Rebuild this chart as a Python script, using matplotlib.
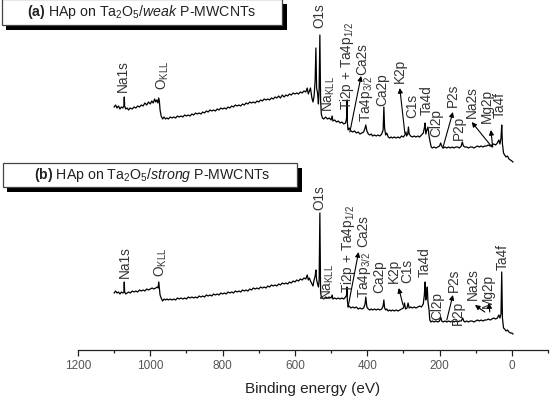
import matplotlib
matplotlib.use("Agg")
import matplotlib.pyplot as plt
from matplotlib import patches

plt.rcParams['font.family'] = ['Liberation Sans', 'DejaVu Sans']
plt.rcParams['mathtext.fontset'] = 'custom'
plt.rcParams['mathtext.rm'] = 'Liberation Sans'
plt.rcParams['mathtext.it'] = 'Liberation Sans:italic'
plt.rcParams['mathtext.bf'] = 'Liberation Sans:bold'

# survey spectra (binding energy in eV, intensity in a.u., (b) sits below (a))
ev_a = [1100, 1096, 1092, 1088, 1084, 1080, 1076, 1073, 1072, 1071, 1068, 1064, 1060, 1056, 1050, 1045,
        1040, 1035, 1030, 1025, 1020, 1015, 1010, 1005, 1000, 996, 992, 988, 985, 982, 979, 977, 975, 973,
        970, 966, 962, 958, 954, 950, 945, 940, 935, 930, 925, 920, 915, 910, 905, 900, 895, 890, 885, 880,
        875, 870, 865, 860, 855, 850, 845, 840, 835, 830, 825, 820, 815, 810, 805, 800, 795, 790, 785, 780,
        775, 770, 765, 760, 755, 750, 745, 740, 735, 730, 725, 720, 715, 710, 705, 700, 695, 690, 685, 680,
        675, 670, 665, 660, 655, 650, 645, 640, 635, 630, 625, 620, 615, 610, 605, 600, 595, 590, 585, 580,
        575, 570, 566, 563, 560, 557, 553, 550, 547, 544, 542, 540, 537, 535, 533, 531, 529, 527, 524, 520,
        515, 510, 505, 500, 497, 495, 490, 485, 480, 475, 470, 465, 460, 457, 456, 455, 453, 450, 445, 440,
        435, 430, 425, 420, 415, 410, 406, 404, 401, 397, 393, 389, 385, 380, 375, 370, 365, 360, 356, 354,
        352, 349, 346, 342, 338, 334, 330, 325, 320, 315, 310, 305, 300, 296, 293, 291, 288, 286, 284, 280,
        275, 270, 265, 260, 255, 250, 245, 242, 240, 238, 235, 232, 229, 226, 223, 220, 215, 210, 205, 200,
        197, 194, 190, 185, 180, 175, 170, 165, 160, 155, 150, 145, 140, 137, 134, 130, 125, 120, 115, 110,
        105, 100, 95, 90, 85, 80, 75, 70, 65, 60, 55, 50, 45, 40, 36, 33, 30, 28, 26, 23, 20, 16, 12, 8, 4,
        0, -3]
int_a = [243, 245, 242, 244, 241, 243, 242, 244, 253, 244, 241, 242, 240, 242, 241, 243,
         242, 244, 243, 245, 244, 247, 245, 248, 246, 249, 247, 251, 248, 250, 247, 252, 249, 240,
         234, 231, 233, 231, 232, 231, 233, 232, 233, 232, 234, 233, 234, 233, 235, 234, 235, 234, 236, 235,
         237, 236, 237, 236, 238, 237, 239, 238, 240, 239, 240, 239, 241, 240, 242, 241, 242, 241, 243, 242,
         244, 243, 245, 244, 245, 244, 246, 245, 247, 246, 248, 247, 248, 247, 249, 248, 250, 249, 251, 250,
         251, 250, 252, 251, 253, 252, 254, 252, 255, 253, 255, 254, 256, 255, 257, 256, 257, 256, 258, 257,
         259, 258, 262, 256, 259, 262, 252, 248, 254, 270, 302, 262, 256, 246, 262, 315, 250, 236, 232, 231,
         233, 231, 232, 230, 234, 229, 230, 228, 229, 227, 228, 226, 227, 232, 250, 228, 220, 222, 219, 218,
         219, 217, 218, 216, 217, 218, 222, 225, 219, 216, 215, 216, 214, 215, 214, 215, 214, 216, 220, 243,
         222, 215, 217, 213, 212, 213, 212, 213, 212, 213, 212, 214, 213, 215, 218, 214, 216, 223, 216, 214,
         213, 214, 213, 214, 213, 215, 217, 222, 227, 216, 220, 223, 214, 208, 203, 202, 203, 202, 203, 204,
         207, 204, 202, 203, 202, 203, 202, 203, 202, 203, 203, 202, 204, 208, 204, 203, 203, 202, 203, 203,
         202, 203, 204, 203, 204, 203, 204, 204, 205, 204, 205, 206, 205, 207, 210, 206, 212, 225, 206, 197,
         195, 193, 194, 191, 190, 189, 188]

ev_b = [1100, 1096, 1092, 1088, 1084, 1080, 1076, 1073, 1072, 1071, 1068, 1064, 1060, 1055, 1050, 1045,
        1040, 1035, 1030, 1025, 1020, 1015, 1010, 1005, 1000, 995, 990, 985, 981, 978, 977, 975, 973, 970,
        966, 962, 958, 954, 950, 945, 940, 935, 930, 925, 920, 915, 910, 905, 900, 895, 890, 885, 880, 875,
        870, 865, 860, 855, 850, 845, 840, 835, 830, 825, 820, 815, 810, 805, 800, 795, 790, 785, 780, 775,
        770, 765, 760, 755, 750, 745, 740, 735, 730, 725, 720, 715, 710, 705, 700, 695, 690, 685, 680, 675,
        670, 665, 660, 655, 650, 645, 640, 635, 630, 625, 620, 615, 610, 605, 600, 595, 590, 585, 580, 575,
        570, 566, 563, 560, 557, 553, 550, 547, 544, 542, 540, 537, 535, 533, 531, 529, 527, 524, 520, 515,
        510, 505, 500, 497, 495, 490, 485, 480, 475, 470, 465, 460, 457, 456, 455, 453, 450, 445, 440, 435,
        430, 425, 420, 415, 410, 406, 404, 401, 397, 393, 389, 385, 380, 375, 370, 365, 360, 356, 354, 352,
        349, 346, 342, 338, 334, 330, 325, 320, 315, 310, 305, 300, 297, 294, 290, 287, 284, 280, 275, 270,
        265, 260, 255, 250, 245, 242, 240, 238, 236, 234, 232, 229, 227, 224, 220, 215, 210, 205, 200, 197,
        194, 190, 185, 180, 175, 170, 165, 160, 155, 150, 145, 140, 136, 133, 130, 125, 120, 115, 110, 105,
        100, 95, 90, 85, 80, 75, 70, 65, 60, 55, 50, 45, 40, 36, 33, 30, 28, 26, 23, 20, 16, 12, 8, 4, 0, -3]
int_b = [57, 59, 57, 58, 56, 58, 57, 58, 68, 58, 56, 57, 58, 57, 59, 58,
         59, 58, 60, 59, 60, 59, 61, 60, 61, 62, 61, 62, 63, 62, 68, 62, 55, 52,
         49, 51, 50, 51, 50, 51, 50, 51, 50, 52, 51, 52, 51, 52, 51, 53, 52, 53, 52, 53,
         52, 54, 53, 54, 53, 55, 54, 55, 54, 56, 55, 56, 55, 57, 56, 57, 56, 58, 57, 58,
         57, 59, 58, 59, 58, 60, 59, 60, 59, 61, 60, 62, 61, 62, 61, 63, 62, 63, 62, 64,
         63, 65, 64, 65, 64, 66, 65, 67, 66, 67, 66, 68, 67, 69, 68, 70, 69, 71, 70, 72,
         71, 75, 70, 72, 69, 66, 64, 70, 74, 80, 70, 66, 63, 70, 137, 58, 53, 52, 51, 53,
         52, 53, 52, 55, 51, 52, 51, 52, 51, 52, 51, 53, 55, 63, 50, 43, 44, 42, 43, 42,
         43, 41, 42, 41, 42, 46, 53, 43, 41, 40, 41, 40, 41, 40, 41, 40, 41, 44, 50, 42,
         40, 41, 39, 40, 39, 40, 39, 40, 39, 40, 41, 42, 47, 41, 42, 47, 42, 43, 42, 43,
         42, 43, 44, 43, 46, 55, 68, 50, 55, 63, 48, 40, 30, 28, 29, 28, 29, 28, 29, 33,
         29, 28, 29, 28, 29, 28, 29, 28, 29, 28, 29, 29, 32, 29, 28, 29, 28, 29, 29, 28,
         29, 30, 29, 30, 29, 30, 30, 31, 30, 31, 32, 31, 32, 35, 32, 36, 78, 32, 22, 21, 19, 20, 18, 17, 17, 16]

# peak labels: text, energy, height of the label's lower end
labels_a = [("Na1s", 1075, 258), (r"O$_{\mathrm{KLL}}$", 965, 260), ("O1s", 531, 322),
            (r"Na$_{\mathrm{KLL}}$", 506, 238), (r"Ti2p + Ta4p$_{1/2}$", 456, 240), ("Ca2s", 415, 275),
            (r"Ta4p$_{3/2}$", 401, 228), ("Ca2p", 359, 244), ("K2p", 310, 267), ("C1s", 276, 232),
            ("Ta4d", 235, 235), ("Cl2p", 210, 213), ("P2s", 163, 243), ("P2p", 147, 210),
            ("Na2s", 111, 232), ("Mg2p", 69, 227), ("Ta4f", 33, 232)]
labels_b = [("Na1s", 1070, 72), (r"O$_{\mathrm{KLL}}$", 970, 73), ("O1s", 531, 140),
            (r"Na$_{\mathrm{KLL}}$", 509, 50), (r"Ti2p + Ta4p$_{1/2}$", 452, 57), ("Ca2s", 412, 103),
            (r"Ta4p$_{3/2}$", 407, 52), ("Ca2p", 366, 57), ("K2p", 327, 67), ("C1s", 290, 67),
            ("Ta4d", 240, 73), ("Cl2p", 205, 30), ("P2s", 160, 58), ("P2p", 149, 25),
            ("Na2s", 108, 50), ("Mg2p", 66, 42), ("Ta4f", 25, 80)]
# arrows: (tail energy, tail height, head energy, head height)
arrows = [(448, 218, 417, 274), (296, 217, 310, 262), (191, 202, 163, 238), (55, 203, 111, 228),
          (53, 203, 58, 220),
          (453, 43, 424, 98), (301, 45, 313, 62), (180, 30, 163, 55), (75, 38, 102, 45), (61, 38, 64, 47)]

titles = [r"$\mathbf{(a)}$ HAp on Ta$_2$O$_5$/$\mathit{weak}$ P-MWCNTs",
          r"$\mathbf{(b)}$ HAp on Ta$_2$O$_5$/$\mathit{strong}$ P-MWCNTs"]

major_ticks = [1200, 1000, 800, 600, 400, 200, 0]
minor_ticks = [1100, 900, 700, 500, 300, 100, -100]

W, H = 556, 412
fig = plt.figure(figsize=(W / 100, H / 100), dpi=100)
ax = fig.add_axes([78 / W, 62 / H, 470 / W, 350 / H])

ax.plot(ev_a, int_a, color='k', lw=0.9)
ax.plot(ev_b, int_b, color='k', lw=0.9)

for lab in [labels_a, labels_b]:
    for t, x, y in lab:
        ax.text(x, y, t, rotation=90, ha='center', va='bottom', fontsize=9.8, color='#333333')

for x0, y0, x1, y1 in arrows:
    ax.annotate('', xy=(x1, y1), xytext=(x0, y0),
                arrowprops=dict(arrowstyle='-|>', color='k', lw=0.8, mutation_scale=7,
                                shrinkA=0, shrinkB=0))

ax.set_xlim(1200, -100)
ax.set_ylim(0, 350)
for s in ['left', 'right', 'top']:
    ax.spines[s].set_visible(False)
ax.spines['bottom'].set_color('#222222')
ax.spines['bottom'].set_linewidth(0.9)
ax.set_yticks([])
ax.set_xticks(major_ticks)
ax.set_xticks(minor_ticks, minor=True)
ax.tick_params(axis='x', which='major', length=4, width=0.9, color='#222222',
               labelcolor='#555555', labelsize=8.5, pad=3.5)
ax.tick_params(axis='x', which='minor', length=2.2, width=0.9, color='#222222')
ax.set_xlabel('Binding energy (eV)', fontsize=11, color='#222222', labelpad=7)


def fig_rect(x0, y0, x1, y1, **kw):
    # pixel box (from the top left) to a figure rectangle
    return patches.Rectangle((x0 / W, 1 - y1 / H), (x1 - x0) / W, (y1 - y0) / H,
                             transform=fig.transFigure, **kw)


boxes = [(2, -1, 282, 25), (3, 163, 297, 187)]
centers = [(142, 12), (152, 175)]
for (x0, y0, x1, y1), (cx, cy), t in zip(boxes, centers, titles):
    fig.add_artist(fig_rect(x0 + 4, y0 + 5, x1 + 5, y1 + 5, facecolor='k', edgecolor='none'))
    fig.add_artist(fig_rect(x0, y0, x1, y1, facecolor='white', edgecolor='#444444', lw=0.9))
    fig.text(cx / W, 1 - cy / H, t, ha='center', va='center', fontsize=10.2, color='#222222')

fig.savefig('out.png', dpi=100)
